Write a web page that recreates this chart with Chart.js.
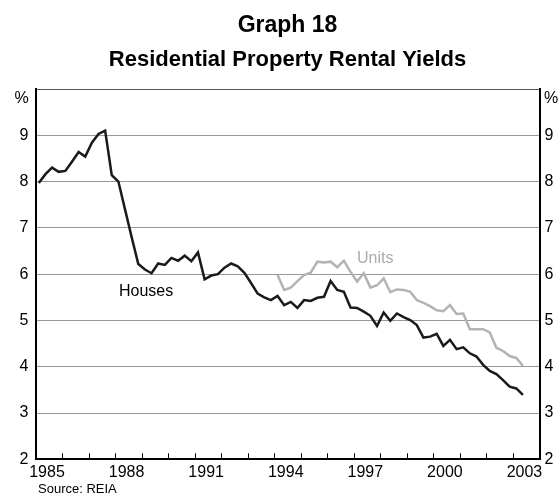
<!DOCTYPE html>
<html>
<head>
<meta charset="utf-8">
<script src="https://cdn.jsdelivr.net/npm/chart.js@4"></script>
<style>
  body { margin: 0; background: #fff; }
  #wrap { width: 560px; height: 498px; }
</style>
</head>
<body>
<div id="wrap"><canvas id="myChart" width="560" height="498"></canvas></div>
<script>
// quarterly rental yields, per cent
const housesStart = 1985; // first quarter is 1985 Q1
const houses = [
  7.97, 8.16, 8.30, 8.21, 8.23, 8.43, 8.64, 8.54, 8.84, 9.03,
  9.10, 8.14, 8.00, 7.40, 6.80, 6.22, 6.10, 6.02, 6.23, 6.20,
  6.35, 6.29, 6.40, 6.28, 6.47, 5.89, 5.97, 6.00, 6.14, 6.23,
  6.17, 6.03, 5.81, 5.58, 5.50, 5.44, 5.53, 5.33, 5.40, 5.27,
  5.44, 5.42, 5.49, 5.51, 5.85, 5.66, 5.62, 5.28, 5.27, 5.19,
  5.10, 4.88, 5.17, 4.99, 5.15, 5.07, 5.01, 4.90, 4.63, 4.65,
  4.71, 4.45, 4.58, 4.38, 4.42, 4.29, 4.22, 4.04, 3.91, 3.84,
  3.71, 3.57, 3.53, 3.39
];
const unitsStart = 1994; // first quarter is 1994 Q1
const units = [
  5.98, 5.66, 5.71, 5.85, 5.98, 6.03, 6.27, 6.25, 6.27, 6.15,
  6.29, 6.05, 5.84, 6.02, 5.71, 5.76, 5.91, 5.61, 5.67, 5.66,
  5.62, 5.44, 5.38, 5.31, 5.22, 5.20, 5.33, 5.14, 5.15, 4.81,
  4.81, 4.81, 4.74, 4.41, 4.34, 4.23, 4.19, 4.02
];
const yearLabels = [1985, 1988, 1991, 1994, 1997, 2000, 2003];
const yMin = 2, yMax = 10;

const FONT = 'Liberation Sans, Arial, sans-serif';

function quarterly(start, vals) {
  return vals.map((v, i) => ({ x: start + (i + 0.5) / 4, y: v }));
}

const textPlugin = {
  id: 'texts',
  afterDraw(chart) {
    const ctx = chart.ctx;
    const a = chart.chartArea;
    const xs = chart.scales.x;
    const mid = (a.left + a.right) / 2;
    ctx.save();
    // year tick marks pointing into the plot
    ctx.strokeStyle = '#000';
    ctx.lineWidth = 1;
    for (let yr = 1986; yr <= 2003; yr++) {
      const px = Math.round(xs.getPixelForValue(yr)) + 0.5;
      ctx.beginPath();
      ctx.moveTo(px, a.bottom);
      ctx.lineTo(px, a.bottom - 6);
      ctx.stroke();
    }
    ctx.fillStyle = '#000';
    ctx.textAlign = 'center';
    ctx.textBaseline = 'alphabetic';
    ctx.font = 'bold 23px ' + FONT;
    ctx.fillText('Graph 18', mid, 31.5);
    ctx.font = 'bold 22px ' + FONT;
    ctx.fillText('Residential Property Rental Yields', mid, 65.5);

    ctx.font = '16px ' + FONT;
    ctx.textBaseline = 'middle';
    ctx.fillText('%', 21.5, 99);
    ctx.fillText('%', 551, 99);

    ctx.textAlign = 'left';
    ctx.fillText('Houses', 119, 292);
    ctx.fillStyle = '#aaaaaa';
    ctx.fillText('Units', 357, 259);

    ctx.fillStyle = '#000';
    ctx.font = '13px ' + FONT;
    ctx.fillText('Source: REIA', 38, 489);
    ctx.restore();
  }
};

const data = {
  datasets: [{
    label: 'Houses',
    data: quarterly(housesStart, houses),
    borderColor: '#1a1a1a',
    borderWidth: 2.5,
    pointRadius: 0,
    tension: 0
  }, {
    label: 'Units',
    data: quarterly(unitsStart, units),
    borderColor: '#b3b3b3',
    borderWidth: 2.5,
    pointRadius: 0,
    tension: 0
  }]
};

const config = {
  type: 'line',
  data: data,
  options: {
    responsive: false,
    animation: false,
    layout: { padding: { top: 89, left: 0, right: 0, bottom: 0 } },
    plugins: {
      legend: { display: false },
      tooltip: { enabled: false },
      title: { display: false }
    },
    scales: {
      x: {
        type: 'linear',
        min: 1985,
        max: 2004,
        afterFit: s => { s.height = 38.7; },
        afterBuildTicks: s => {
          const t = [];
          for (let yr = 1985; yr <= 2004; yr++) t.push({ value: yr });
          s.ticks = t;
        },
        ticks: {
          autoSkip: false,
          maxRotation: 0,
          padding: 4,
          labelOffset: 11.5,
          color: '#000',
          font: { size: 16, family: FONT },
          callback: v => yearLabels.includes(v) ? String(v) : ''
        },
        grid: { display: false, drawTicks: false },
        border: { display: true, color: '#000', width: 2 }
      },
      y: {
        position: 'left',
        min: yMin,
        max: yMax,
        afterFit: s => { s.width = 35.5; },
        ticks: {
          stepSize: 1,
          padding: 7,
          color: '#000',
          font: { size: 16, family: FONT },
          callback: v => v === yMax ? '' : v
        },
        grid: {
          drawTicks: false,
          lineWidth: 1,
          color: c => c.tick && c.tick.value === yMin ? 'rgba(0,0,0,0)' :
                      (c.tick && c.tick.value === yMax ? '#555' : '#999')
        },
        border: { display: true, color: '#000', width: 2 }
      },
      y2: {
        position: 'right',
        min: yMin,
        max: yMax,
        afterFit: s => { s.width = 20.5; },
        ticks: {
          stepSize: 1,
          padding: 5,
          color: '#000',
          font: { size: 16, family: FONT },
          callback: v => v === yMax ? '' : v
        },
        grid: { display: false, drawTicks: false },
        border: { display: true, color: '#000', width: 2 }
      }
    }
  },
  plugins: [textPlugin]
};

const myChart = new Chart(document.getElementById('myChart'), config);
</script>
</body>
</html>
